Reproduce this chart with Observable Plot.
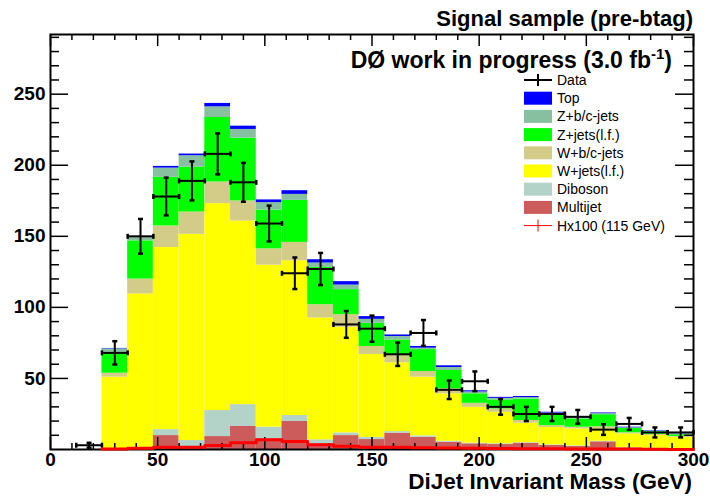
<!DOCTYPE html>
<html>
<head>
<meta charset="utf-8">
<script src="https://cdn.jsdelivr.net/npm/d3@7"></script>
<script src="https://cdn.jsdelivr.net/npm/@observablehq/plot@0.6"></script>
<style>
  html, body { margin: 0; padding: 0; background: #fff; }
  #chart svg { display: block; }
</style>
</head>
<body>
<div id="chart"></div>
<script>
// ---- data ----
const binLow = [24,36,48,60,72,84,96,108,120,132,144,156,168,180,192,204,216,228,240,252,264,276,288];
const binWidth = 12;

const seriesNames = ["Multijet","Diboson","W+jets(l.f.)","W+b/c-jets","Z+jets(l.f.)","Z+b/c-jets","Top"];
const seriesColors = ["#cc5c5c","#b3d2c8","#ffff00","#d3cc88","#00ff00","#87c0a1","#0000ff"];

const multijet = [0.3,1,9.8,1,9.1,16.2,7.5,19.7,4,9.8,7,11.5,8.6,5.1,4,3.5,4.4,2.8,2.1,5.4,1,0.5,0.3];
const diboson  = [0.2,0.5,4.2,5.3,18.3,15.4,8.2,4.2,2.8,1.9,1.5,1.1,1,0.7,0.5,0.5,0.4,0.4,0.4,0.4,0.3,0.3,0.2];
const wjetsLF  = [50.4,108,128.1,145.1,145.6,129.2,114,108.9,85.8,74.3,58.3,48.4,41.3,33.4,25.2,22.2,13.7,12.3,12,8.7,9.7,9,8.1];
const wbcJets  = [2.8,10.4,15.2,15.7,15.2,14.1,11.5,12.9,9.3,8.9,5.7,5.1,4,3.5,2.8,2.3,1.9,1.3,1.2,1.5,0.8,0.8,0.6];
const zjetsLF  = [14.7,26.9,34.2,31.6,45.4,44.2,27.3,29.6,26.2,17.6,16.3,11,15.4,12.9,6.7,6.4,15.1,8,5.8,8.5,3,1.9,1.2];
const zbcJets  = [2.4,2.4,6.5,8,7.5,6.1,5.2,4.2,3.1,3.2,2.8,2.4,1,2.1,1.3,1.1,1,0.8,0.8,0.7,0.5,0.5,0.4];
const topQuark = [0.3,0.4,1.2,1.2,2.4,2.3,1.9,2.6,2.3,2.4,1.9,1.1,1.2,1.2,0.8,0.7,0.8,0.6,0.5,0.5,0.4,0.3,0.2];

const higgsX100 = [0.4,0.9,1.6,1.6,2.8,4.7,6.8,5.6,3.3,2.3,1.6,1.5,1.2,1,0.8,0.7,0.6,0.5,0.4,0.4,0.3,0.2,0];

const dataMass  = [18,30,42,54,66,78,90,102,114,126,138,150,162,174,186,198,210,222,234,246,258,270,282,294];
const dataValue = [3,68,150,178,189,208,188,159,124,127,88,85,67,82,42,48,30,25,25,23,14,18,12,12];
const dataError = [1.7,8.2,12.2,13.3,13.7,14.4,13.7,12.6,11.1,11.3,9.4,9.2,8.2,9.1,6.5,6.9,5.5,5,5,4.8,3.7,4.2,3.5,3.5];

const xMajorTicks = [0,50,100,150,200,250,300];
const xMinorTicks = [10,20,30,40,60,70,80,90,110,120,130,140,160,170,180,190,210,220,230,240,260,270,280,290];
const yMajorTicks = [50,100,150,200,250];
const yMinorTicks = [10,20,30,40,60,70,80,90,110,120,130,140,160,170,180,190,210,220,230,240,260,270,280,290];

// ---- build tables ----
const seriesValues = [multijet, diboson, wjetsLF, wbcJets, zjetsLF, zbcJets, topQuark];
const stackRows = [];
binLow.forEach((lo, i) => {
  let acc = 0;
  seriesNames.forEach((name, s) => {
    const v = seriesValues[s][i];
    stackRows.push({x1: lo, x2: lo + binWidth, y1: acc, y2: acc + v, series: name});
    acc += v;
  });
});
const dataRows = dataMass.map((m, i) => ({m, v: dataValue[i], e: dataError[i]}));
const sigRows = binLow.map((lo, i) => ({x: lo, y: higgsX100[i]}));
sigRows.push({x: binLow[binLow.length - 1] + binWidth, y: higgsX100[higgsX100.length - 1]});

const W = 710, H = 498;
const mL = 50, mR = 17, mT = 34, mB = 49;
const frameW = W - mL - mR, frameH = H - mT - mB;

const hcap = {draw(ctx) { ctx.moveTo(-2.5, 0); ctx.lineTo(2.5, 0); }};
const vcap = {draw(ctx) { ctx.moveTo(0, -2.5); ctx.lineTo(0, 2.5); }};

const FONT = "'Liberation Sans', Arial, Helvetica, sans-serif";

const plot = Plot.plot({
  width: W, height: H,
  marginLeft: mL, marginRight: mR, marginTop: mT, marginBottom: mB,
  style: {fontFamily: FONT, fontSize: "19px", fontWeight: "bold", background: "white", color: "black"},
  x: {domain: [0, 300], label: null},
  y: {domain: [0, 292], label: null},
  color: {domain: seriesNames, range: seriesColors},
  marks: [
    Plot.rect(stackRows, {x1: "x1", x2: "x2", y1: "y1", y2: "y2", fill: "series"}),
    // ticks (inward, ROOT style)
    Plot.tickX(xMinorTicks, {x: d => d, insetTop: frameH - 6, stroke: "black", strokeWidth: 1.5}),
    Plot.tickX(xMajorTicks, {x: d => d, insetTop: frameH - 12, stroke: "black", strokeWidth: 1.5}),
    Plot.tickX(xMinorTicks, {x: d => d, insetBottom: frameH - 6, stroke: "black", strokeWidth: 1.5}),
    Plot.tickX(xMajorTicks, {x: d => d, insetBottom: frameH - 12, stroke: "black", strokeWidth: 1.5}),
    Plot.tickY(yMinorTicks, {y: d => d, insetRight: frameW - 9, stroke: "black", strokeWidth: 1.5}),
    Plot.tickY(yMajorTicks, {y: d => d, insetRight: frameW - 18, stroke: "black", strokeWidth: 1.5}),
    Plot.tickY(yMinorTicks, {y: d => d, insetLeft: frameW - 9, stroke: "black", strokeWidth: 1.5}),
    Plot.tickY(yMajorTicks, {y: d => d, insetLeft: frameW - 18, stroke: "black", strokeWidth: 1.5}),
    Plot.axisX({ticks: xMajorTicks, tickSize: 0, tickPadding: 3, fontSize: 19, fontWeight: "bold", label: null}),
    Plot.axisY({ticks: yMajorTicks, tickSize: 0, tickPadding: 5, fontSize: 19, fontWeight: "bold", label: null}),
    Plot.frame({stroke: "black", strokeWidth: 2}),
    // data points with error bars
    Plot.ruleX(dataRows, {x: "m", y1: d => d.v - d.e, y2: d => d.v + d.e, stroke: "black", strokeWidth: 2}),
    Plot.ruleY(dataRows, {y: "v", x1: d => d.m - binWidth / 2, x2: d => d.m + binWidth / 2, stroke: "black", strokeWidth: 2}),
    Plot.dot(dataRows, {x: "m", y: d => d.v + d.e, symbol: hcap, r: 3, fill: "none", stroke: "black", strokeWidth: 2.5}),
    Plot.dot(dataRows, {x: "m", y: d => d.v - d.e, symbol: hcap, r: 3, fill: "none", stroke: "black", strokeWidth: 2.5}),
    Plot.dot(dataRows, {x: d => d.m - binWidth / 2, y: "v", symbol: vcap, r: 3, fill: "none", stroke: "black", strokeWidth: 2.5}),
    Plot.dot(dataRows, {x: d => d.m + binWidth / 2, y: "v", symbol: vcap, r: 3, fill: "none", stroke: "black", strokeWidth: 2.5}),
    // signal x100
    Plot.line(sigRows, {x: "x", y: "y", curve: "step-after", stroke: "#ff0000", strokeWidth: 3})
  ]
});

const svg = d3.select(plot);
// titles
svg.append("text").attr("x", 693).attr("y", 26).attr("text-anchor", "end")
  .attr("font-family", FONT).attr("font-size", 22).attr("font-weight", "bold").text("Signal sample (pre-btag)");
const t2 = svg.append("text").attr("x", 672).attr("y", 68).attr("text-anchor", "end")
  .attr("font-family", FONT).attr("font-size", 23).attr("font-weight", "bold");
t2.append("tspan").text("DØ work in progress (3.0 fb");
t2.append("tspan").attr("font-size", 15).attr("dy", -9).text("-1");
t2.append("tspan").attr("dy", 9).text(")");
svg.append("text").attr("x", 692).attr("y", 489).attr("text-anchor", "end")
  .attr("font-family", FONT).attr("font-size", 22.5).attr("font-weight", "bold").text("DiJet Invariant Mass (GeV)");

// legend
const lg = svg.append("g").attr("font-family", FONT).attr("font-size", 14).attr("font-weight", "normal").attr("text-anchor", "start");
const legendItems = [
  {label: "Data", kind: "data"},
  {label: "Top", kind: "box", color: seriesColors[6]},
  {label: "Z+b/c-jets", kind: "box", color: seriesColors[5]},
  {label: "Z+jets(l.f.)", kind: "box", color: seriesColors[4]},
  {label: "W+b/c-jets", kind: "box", color: seriesColors[3]},
  {label: "W+jets(l.f.)", kind: "box", color: seriesColors[2]},
  {label: "Diboson", kind: "box", color: seriesColors[1]},
  {label: "Multijet", kind: "box", color: seriesColors[0]},
  {label: "Hx100 (115 GeV)", kind: "sig"}
];
legendItems.forEach((it, i) => {
  const cy = 80 + i * 18.2;
  if (it.kind === "box") {
    lg.append("rect").attr("x", 524).attr("y", cy - 6.5).attr("width", 28).attr("height", 13).attr("fill", it.color);
  } else if (it.kind === "data") {
    lg.append("line").attr("x1", 524).attr("x2", 552).attr("y1", cy).attr("y2", cy).attr("stroke", "black").attr("stroke-width", 2);
    lg.append("line").attr("x1", 538).attr("x2", 538).attr("y1", cy - 6).attr("y2", cy + 6).attr("stroke", "black").attr("stroke-width", 2);
  } else {
    lg.append("line").attr("x1", 524).attr("x2", 552).attr("y1", cy).attr("y2", cy).attr("stroke", "#ff0000").attr("stroke-width", 1);
    lg.append("line").attr("x1", 538).attr("x2", 538).attr("y1", cy - 6).attr("y2", cy + 6).attr("stroke", "#ff0000").attr("stroke-width", 1);
  }
  lg.append("text").attr("x", 557).attr("y", cy).attr("dy", "0.36em").attr("fill", "black").attr("text-anchor", "start").text(it.label);
});

document.getElementById("chart").appendChild(plot);
</script>
</body>
</html>
